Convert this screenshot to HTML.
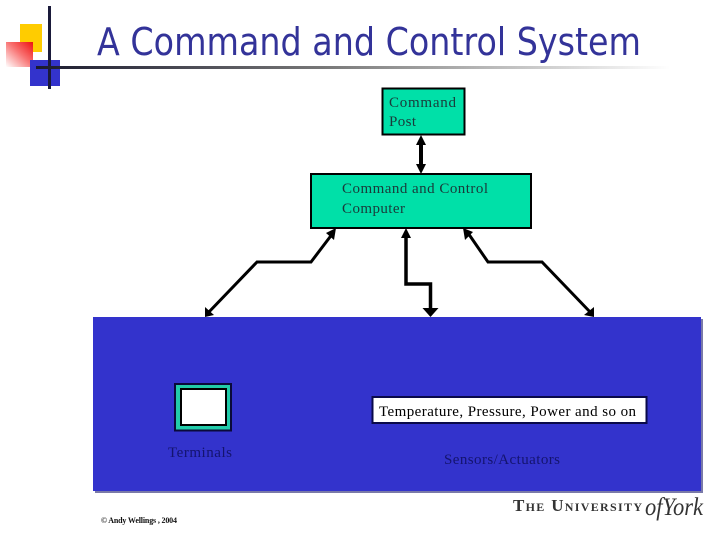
<!DOCTYPE html>
<html>
<head>
<meta charset="utf-8">
<style>
html,body{margin:0;padding:0;background:#fff}
svg{display:block}
text{font-family:"Liberation Serif",serif}
</style>
</head>
<body>
<svg xmlns="http://www.w3.org/2000/svg" width="720" height="540" viewBox="0 0 720 540">
<defs>
<linearGradient id="rule" x1="0" x2="1" y1="0" y2="0">
<stop offset="0" stop-color="#1a1a2e"/>
<stop offset="0.45" stop-color="#777"/>
<stop offset="1" stop-color="#fff"/>
</linearGradient>
<linearGradient id="red" x1="1" y1="0" x2="0" y2="1">
<stop offset="0" stop-color="#ee1010"/>
<stop offset="0.45" stop-color="#f87070"/>
<stop offset="1" stop-color="#fff"/>
</linearGradient>
</defs>
<rect width="720" height="540" fill="#fff"/>

<!-- decoration -->
<rect x="20" y="24" width="22" height="28" fill="#ffcc00"/>
<rect x="6" y="42" width="27" height="25" fill="url(#red)"/>
<rect x="30" y="60" width="30" height="26" fill="#3333cc"/>
<rect x="48" y="6" width="3" height="83" fill="#1a1a3a"/>
<rect x="36" y="66" width="634" height="3" fill="url(#rule)"/>

<!-- title -->
<text x="97" y="55" font-size="38" fill="#333399" style="font-family:'DejaVu Sans',sans-serif" textLength="544" lengthAdjust="spacingAndGlyphs">A Command and Control System</text>

<!-- blue panel -->
<rect x="95" y="319" width="608" height="174" fill="#7a7aa8"/>
<rect x="93" y="317" width="608" height="174" fill="#3333cc"/>

<!-- Command post -->
<rect x="382.500" y="88.500" width="82" height="46" fill="#00e0a8" stroke="#000" stroke-width="2"/>
<text x="389" y="107" font-size="15" fill="#1a3a3a" textLength="67" lengthAdjust="spacing">Command</text>
<text x="389" y="126" font-size="15" fill="#1a3a3a" textLength="27" lengthAdjust="spacing">Post</text>

<!-- C&C computer -->
<rect x="311" y="174" width="220" height="54" fill="#00e0a8" stroke="#000" stroke-width="2"/>
<text x="342" y="193" font-size="15" fill="#1a3a3a" textLength="146" lengthAdjust="spacing">Command and Control</text>
<text x="342" y="213" font-size="15" fill="#1a3a3a" textLength="63" lengthAdjust="spacing">Computer</text>

<!-- connectors -->
<g fill="none" stroke="#000" stroke-linejoin="miter">
<path d="M421 141V168" stroke-width="4"/>
<path d="M333 233L311 262H257L207 314" stroke-width="3"/>
<path d="M406 235V284H430.500V312" stroke-width="3.500"/>
<path d="M468 233L488 262H542L592 314" stroke-width="3"/>
</g>
<g fill="#000">
<polygon points="421,135 416,145 426,145"/>
<polygon points="421,174 416,164 426,164"/>
<polygon points="336,228 326,233 334,240"/>
<polygon points="406,228 401,238 411,238"/>
<polygon points="430.500,317 422.500,308 438.500,308"/>
<polygon points="463,228 473,232 465,240"/>
<polygon points="205,317 205,307 214,315"/>
<polygon points="594,317 584,315 594,307"/>
</g>

<!-- Terminal -->
<rect x="175" y="384" width="56" height="46.500" fill="#22ccaa" stroke="#0a0a3a" stroke-width="2"/>
<rect x="181" y="389" width="45" height="36" fill="#fff" stroke="#000" stroke-width="2"/>
<text x="168" y="457" font-size="15" fill="#14146e" textLength="64" lengthAdjust="spacing">Terminals</text>

<!-- Sensors -->
<rect x="372.500" y="397" width="274" height="26" fill="#fff" stroke="#0a0a4a" stroke-width="2"/>
<text x="379" y="416" font-size="15" fill="#000" textLength="257" lengthAdjust="spacing">Temperature, Pressure, Power and so on</text>
<text x="444" y="464" font-size="15" fill="#14146e" textLength="116" lengthAdjust="spacing">Sensors/Actuators</text>

<!-- Copyright -->
<text x="101" y="523" font-size="8" font-weight="bold" fill="#111" textLength="76" lengthAdjust="spacing">© Andy Wellings , 2004</text>

<!-- logo -->
<text x="513" y="511" font-size="17" font-weight="bold" fill="#333" style="font-variant:small-caps" textLength="129" lengthAdjust="spacing">The University</text>
<text x="645" y="515" font-size="25" font-style="italic" fill="#333" textLength="58" lengthAdjust="spacingAndGlyphs">ofYork</text>
</svg>
</body>
</html>
